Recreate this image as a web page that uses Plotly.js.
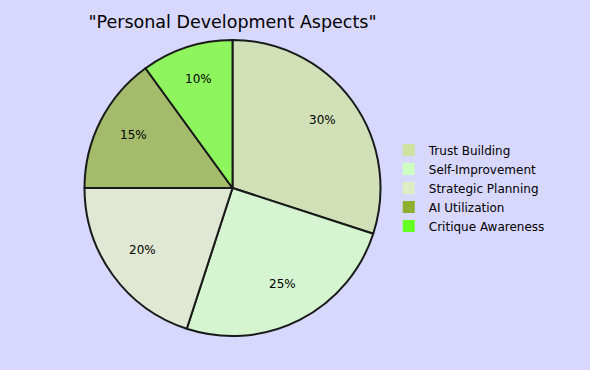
<!DOCTYPE html>
<html>
<head>
<meta charset="utf-8">
<script src="https://cdn.plot.ly/plotly-3.0.1.min.js"></script>
<style>html,body{margin:0;padding:0;background:#d8d8fe;}#chart{width:590px;height:370px;}</style>
</head>
<body>
<div id="chart"></div>
<script>
const categories = ["Trust Building", "Self-Improvement", "Strategic Planning", "AI Utilization", "Critique Awareness"];
const percentages = [30, 25, 20, 15, 10];
const legendColors = ["#d0e0a0", "#ccffc0", "#e0ecc4", "#8db030", "#66ff22"];
const sliceColors = ["#d2e0b8", "#d4f5d0", "#e0e8d4", "#a3bb6b", "#8ef55f"];
const chartTitle = '"Personal Development Aspects"';

const W = 590, H = 370;
const margin = {l: 68, r: 193, t: 40, b: 34};
const plotW = W - margin.l - margin.r, plotH = H - margin.t - margin.b;
const R = Math.min(plotW, plotH) / 2;
const labelR = 0.75 * R;

// label positions derived from the data (mid-angle of each slice, clockwise from 12 o'clock)
const total = percentages.reduce((a, b) => a + b, 0);
let cum = 0;
const annotations = percentages.map(v => {
  const mid = (cum + v / 2) / total * 2 * Math.PI;
  cum += v;
  return {
    xref: "paper", yref: "paper",
    x: 0.5 + labelR * Math.sin(mid) / plotW,
    y: 0.5 + labelR * Math.cos(mid) / plotH,
    yshift: 3,
    text: v + "%", showarrow: false,
    xanchor: "center", yanchor: "middle",
    font: {family: "DejaVu Sans", size: 12, color: "#000000"}
  };
});

const legendTrace = {
  type: "pie",
  labels: categories,
  values: percentages,
  sort: false,
  direction: "clockwise",
  rotation: 0,
  marker: {colors: legendColors, line: {width: 0}},
  textinfo: "none",
  hoverinfo: "skip",
  showlegend: true
};

const sliceTrace = {
  type: "pie",
  labels: categories,
  values: percentages,
  sort: false,
  direction: "clockwise",
  rotation: 0,
  marker: {colors: sliceColors, line: {color: "#1a1a1a", width: 2}},
  textinfo: "none",
  hoverinfo: "label+percent",
  showlegend: false
};

const layout = {
  width: W, height: H,
  paper_bgcolor: "#d8d8fe",
  plot_bgcolor: "#d8d8fe",
  margin: Object.assign({autoexpand: false}, margin),
  title: {text: chartTitle, x: 0.5, xref: "paper", xanchor: "center", y: 1, yref: "container", yanchor: "top", pad: {t: 16},
          font: {family: "DejaVu Sans", size: 17.5, color: "#000000"}},
  showlegend: true,
  legend: {x: 0.975, xanchor: "left", y: 0.5, yanchor: "middle", font: {family: "DejaVu Sans", size: 12, color: "#000000"},
           bgcolor: "rgba(0,0,0,0)", itemwidth: 30, tracegroupgap: 0},
  annotations: annotations,
  font: {family: "DejaVu Sans"}
};

Plotly.newPlot("chart", [legendTrace, sliceTrace], layout, {displayModeBar: false, staticPlot: true});
</script>
</body>
</html>
